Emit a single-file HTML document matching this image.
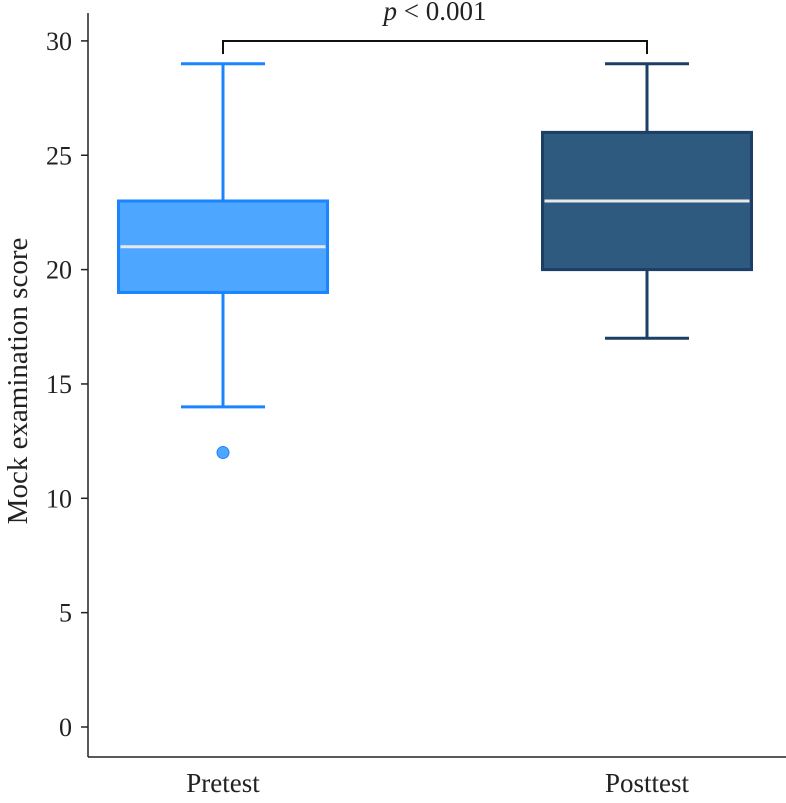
<!DOCTYPE html>
<html><head><meta charset="utf-8"><style>
body{margin:0;background:#fff}
svg text{font-family:"Liberation Serif",serif;fill:#222}
</style></head><body>
<svg id="c" width="786" height="798"></svg>
<script>
const categories=["Pretest","Posttest"];
const q1=[19,20],median=[21,23],q3=[23,26],whiskerLow=[14,17],whiskerHigh=[29,29];
const outliers=[[12],[]];
const yTicks=[0,5,10,15,20,25,30];
const fills=["#4da6ff","#2f5a80"],strokes=["#1a85ff","#1b3f66"];
const ns="http://www.w3.org/2000/svg",svg=document.getElementById('c');
const y=v=>727-v*22.87;
const xc=[223,647];
const bw=209,cap=84;
function el(t,a,p){const e=document.createElementNS(ns,t);for(const k in a)e.setAttribute(k,a[k]);(p||svg).appendChild(e);return e;}
let ax=el('line',{x1:88,y1:13,x2:88,y2:757,stroke:'#222','stroke-width':1.5});


let xa=el('line',{x1:88,y1:757,x2:786,y2:757,stroke:'#222','stroke-width':1.5});


yTicks.forEach(t=>{
 let l=el('line',{x1:81,y1:y(t),x2:88,y2:y(t),stroke:'#222','stroke-width':1.5});
 
 
 let tx=el('text',{x:72,y:y(t)+9,'text-anchor':'end','font-size':26});tx.textContent=t;
 
 
});
let yt=el('text',{x:0,y:0,'font-size':29,'text-anchor':'middle',transform:'translate(27,381) rotate(-90)'});yt.textContent='Mock examination score';


categories.forEach((c,i)=>{
 const x=xc[i],g=el('g',{});
 
 
 el('line',{x1:x,y1:y(whiskerHigh[i]),x2:x,y2:y(whiskerLow[i]),stroke:strokes[i],'stroke-width':3},g);
 el('line',{x1:x-cap/2,y1:y(whiskerHigh[i]),x2:x+cap/2,y2:y(whiskerHigh[i]),stroke:strokes[i],'stroke-width':3},g);
 el('line',{x1:x-cap/2,y1:y(whiskerLow[i]),x2:x+cap/2,y2:y(whiskerLow[i]),stroke:strokes[i],'stroke-width':3},g);
 el('rect',{x:x-bw/2,y:y(q3[i]),width:bw,height:y(q1[i])-y(q3[i]),fill:fills[i],stroke:strokes[i],'stroke-width':3},g);
 el('line',{x1:x-bw/2+2,y1:y(median[i]),x2:x+bw/2-2,y2:y(median[i]),stroke:'#e8e8e8','stroke-width':3},g);
 outliers[i].forEach(o=>{
  let p=el('circle',{cx:x,cy:y(o),r:6,fill:fills[i],stroke:strokes[i],'stroke-width':1});
  
  
 });
 let t=el('text',{x:x,y:792,'text-anchor':'middle','font-size':27});t.textContent=c;
 
 
});
let br=el('path',{d:`M${xc[0]} 54 V41 H${xc[1]} V54`,fill:'none',stroke:'#111','stroke-width':2});


let pt=el('text',{x:435,y:20,'text-anchor':'middle','font-size':27});
pt.innerHTML='<tspan font-style="italic">p</tspan> &lt; 0.001';


</script>
</body></html>
